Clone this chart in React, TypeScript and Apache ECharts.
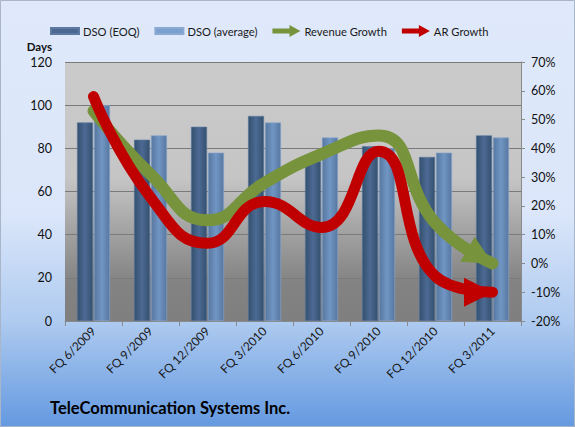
import React, { useEffect, useRef } from "react";
import * as echarts from "echarts";

const categories = ["FQ 6/2009", "FQ 9/2009", "FQ 12/2009", "FQ 3/2010", "FQ 6/2010", "FQ 9/2010", "FQ 12/2010", "FQ 3/2011"];
const dsoEoq = [92, 84, 90, 95, 74, 81, 76, 86];
const dsoAvg = [100, 86, 78, 92, 85, 80, 78, 85];
const revenueGrowth = [53, 31, 15, 28, 38, 44.5, 14, 0];
const arGrowth = [58, 23, 7, 21.5, 12.5, 39, -4.5, -10];

const FONT = "Lato, 'Open Sans', sans-serif";
const ARROW_ICON = "path://M0,3.5 L17,3.5 L17,0 L28,6 L17,12 L17,8.5 L0,8.5 Z";

function withArrow(values: number[], rotate: number, offset: number[], color: string) {
  return values.map((v, i) =>
    i === values.length - 1
      ? { value: v, symbol: "triangle", symbolSize: [29, 29], symbolRotate: rotate, symbolOffset: offset, itemStyle: { color } }
      : { value: v, symbol: "none" }
  );
}

export default function App() {
  const ref = useRef<HTMLDivElement>(null);
  useEffect(() => {
    document.body.style.margin = "0";
    const chart = echarts.init(ref.current!, null, { renderer: "svg" });
    const eoqGrad = new echarts.graphic.LinearGradient(0, 0, 1, 0, [
      { offset: 0, color: "#34506f" },
      { offset: 0.5, color: "#4c6a93" },
      { offset: 1, color: "#34506f" },
    ]);
    const avgGrad = new echarts.graphic.LinearGradient(0, 0, 1, 0, [
      { offset: 0, color: "#56779f" },
      { offset: 0.5, color: "#7196c4" },
      { offset: 1, color: "#56779f" },
    ]);
    chart.setOption({
      animation: false,
      backgroundColor: new echarts.graphic.LinearGradient(0, 0, 0, 1, [
        { offset: 0, color: "#dfe9fb" },
        { offset: 0.5, color: "#dbe6fa" },
        { offset: 0.75, color: "#afcbf0" },
        { offset: 1, color: "#6499e0" },
      ]),
      textStyle: { fontFamily: FONT },
      legend: {
        left: 45,
        top: 20,
        itemWidth: 28,
        itemHeight: 12,
        itemGap: 15,
        textStyle: { fontFamily: FONT, fontSize: 11.2, color: "#1a1a1a", padding: [0, 0, 0, -1] },
        data: [
          { name: "DSO (EOQ)", icon: "path://M0,0 L28,0 L28,6 L0,6 Z", itemStyle: { color: "#4a6890" } },
          { name: "DSO (average)", icon: "path://M0,0 L28,0 L28,6 L0,6 Z", itemStyle: { color: "#7aa0cf" } },
          { name: "Revenue Growth", icon: ARROW_ICON, itemStyle: { color: "#77933c" } },
          { name: "AR Growth", icon: ARROW_ICON, itemStyle: { color: "#c00000" } },
        ],
      },
      grid: {
        left: 65,
        right: 54,
        top: 62,
        bottom: 106,
        show: true,
        borderWidth: 0,
        backgroundColor: new echarts.graphic.LinearGradient(0, 0, 0, 1, [
          { offset: 0, color: "#cbcbcb" },
          { offset: 0.45, color: "#c5c5c5" },
          { offset: 0.62, color: "#a8a8a8" },
          { offset: 0.85, color: "#838383" },
          { offset: 1, color: "#7f7f7f" },
        ]),
      },
      xAxis: {
        type: "category",
        data: categories,
        axisLine: { show: true, lineStyle: { color: "#8a8a8a" } },
        axisTick: { show: true, length: 5, lineStyle: { color: "#8a8a8a" } },
        axisLabel: { rotate: 45, margin: 8, fontSize: 12, color: "#1a1a1a", fontFamily: FONT, interval: 0 },
      },
      yAxis: [
        {
          type: "value",
          min: 0,
          max: 120,
          interval: 20,
          name: "Days",
          nameLocation: "end",
          nameGap: 10,
          nameTextStyle: { fontWeight: "bold", fontSize: 11.5, color: "#111", align: "right", padding: [0, 13, 0, 0] },
          axisLine: { show: false },
          axisTick: { show: false },
          splitLine: { show: true, lineStyle: { color: "#7a7a7a", width: 1 } },
          axisLabel: { fontSize: 12.5, color: "#111", margin: 13, fontFamily: FONT },
        },
        {
          type: "value",
          min: -20,
          max: 70,
          interval: 10,
          position: "right",
          axisLine: { show: true, lineStyle: { color: "#8a8a8a" } },
          axisTick: { show: true, length: 4, lineStyle: { color: "#8a8a8a" } },
          splitLine: { show: false },
          axisLabel: { fontSize: 12.5, color: "#111", margin: 10, formatter: "{value}%", fontFamily: FONT },
        },
      ],
      series: [
        {
          name: "DSO (EOQ)",
          type: "bar",
          data: dsoEoq,
          barWidth: 16,
          barGap: "6%",
          itemStyle: { color: eoqGrad, borderColor: "#5e7aa2", borderWidth: 0.6 },
        },
        {
          name: "DSO (average)",
          type: "bar",
          data: dsoAvg,
          barWidth: 16,
          itemStyle: { color: avgGrad, borderColor: "#8aa8d0", borderWidth: 0.6 },
        },
        {
          name: "Revenue Growth",
          type: "line",
          yAxisIndex: 1,
          smooth: 0.5,
          data: withArrow(revenueGrowth, -120, [-12.5, -7], "#77933c"),
          lineStyle: { color: "#77933c", width: 12, cap: "round" },
          itemStyle: { color: "#77933c" },
          z: 3,
        },
        {
          name: "AR Growth",
          type: "line",
          yAxisIndex: 1,
          smooth: 0.5,
          data: withArrow(arGrowth, -90, [-14, 0], "#c00000"),
          lineStyle: { color: "#c00000", width: 11, cap: "round" },
          itemStyle: { color: "#c00000" },
          z: 4,
        },
      ],
      graphic: [
        {
          type: "text",
          left: 50,
          top: 399,
          style: { text: "TeleCommunication Systems Inc.", font: "bold 16.5px " + FONT, fill: "#000" },
        },
        {
          type: "rect",
          shape: { x: 0.5, y: 0.5, width: 574, height: 426 },
          style: { fill: "none", stroke: "#a9b6c9", lineWidth: 1 },
          silent: true,
        },
      ],
    });
    return () => chart.dispose();
  }, []);
  return <div ref={ref} style={{ width: 575, height: 427 }} />;
}
